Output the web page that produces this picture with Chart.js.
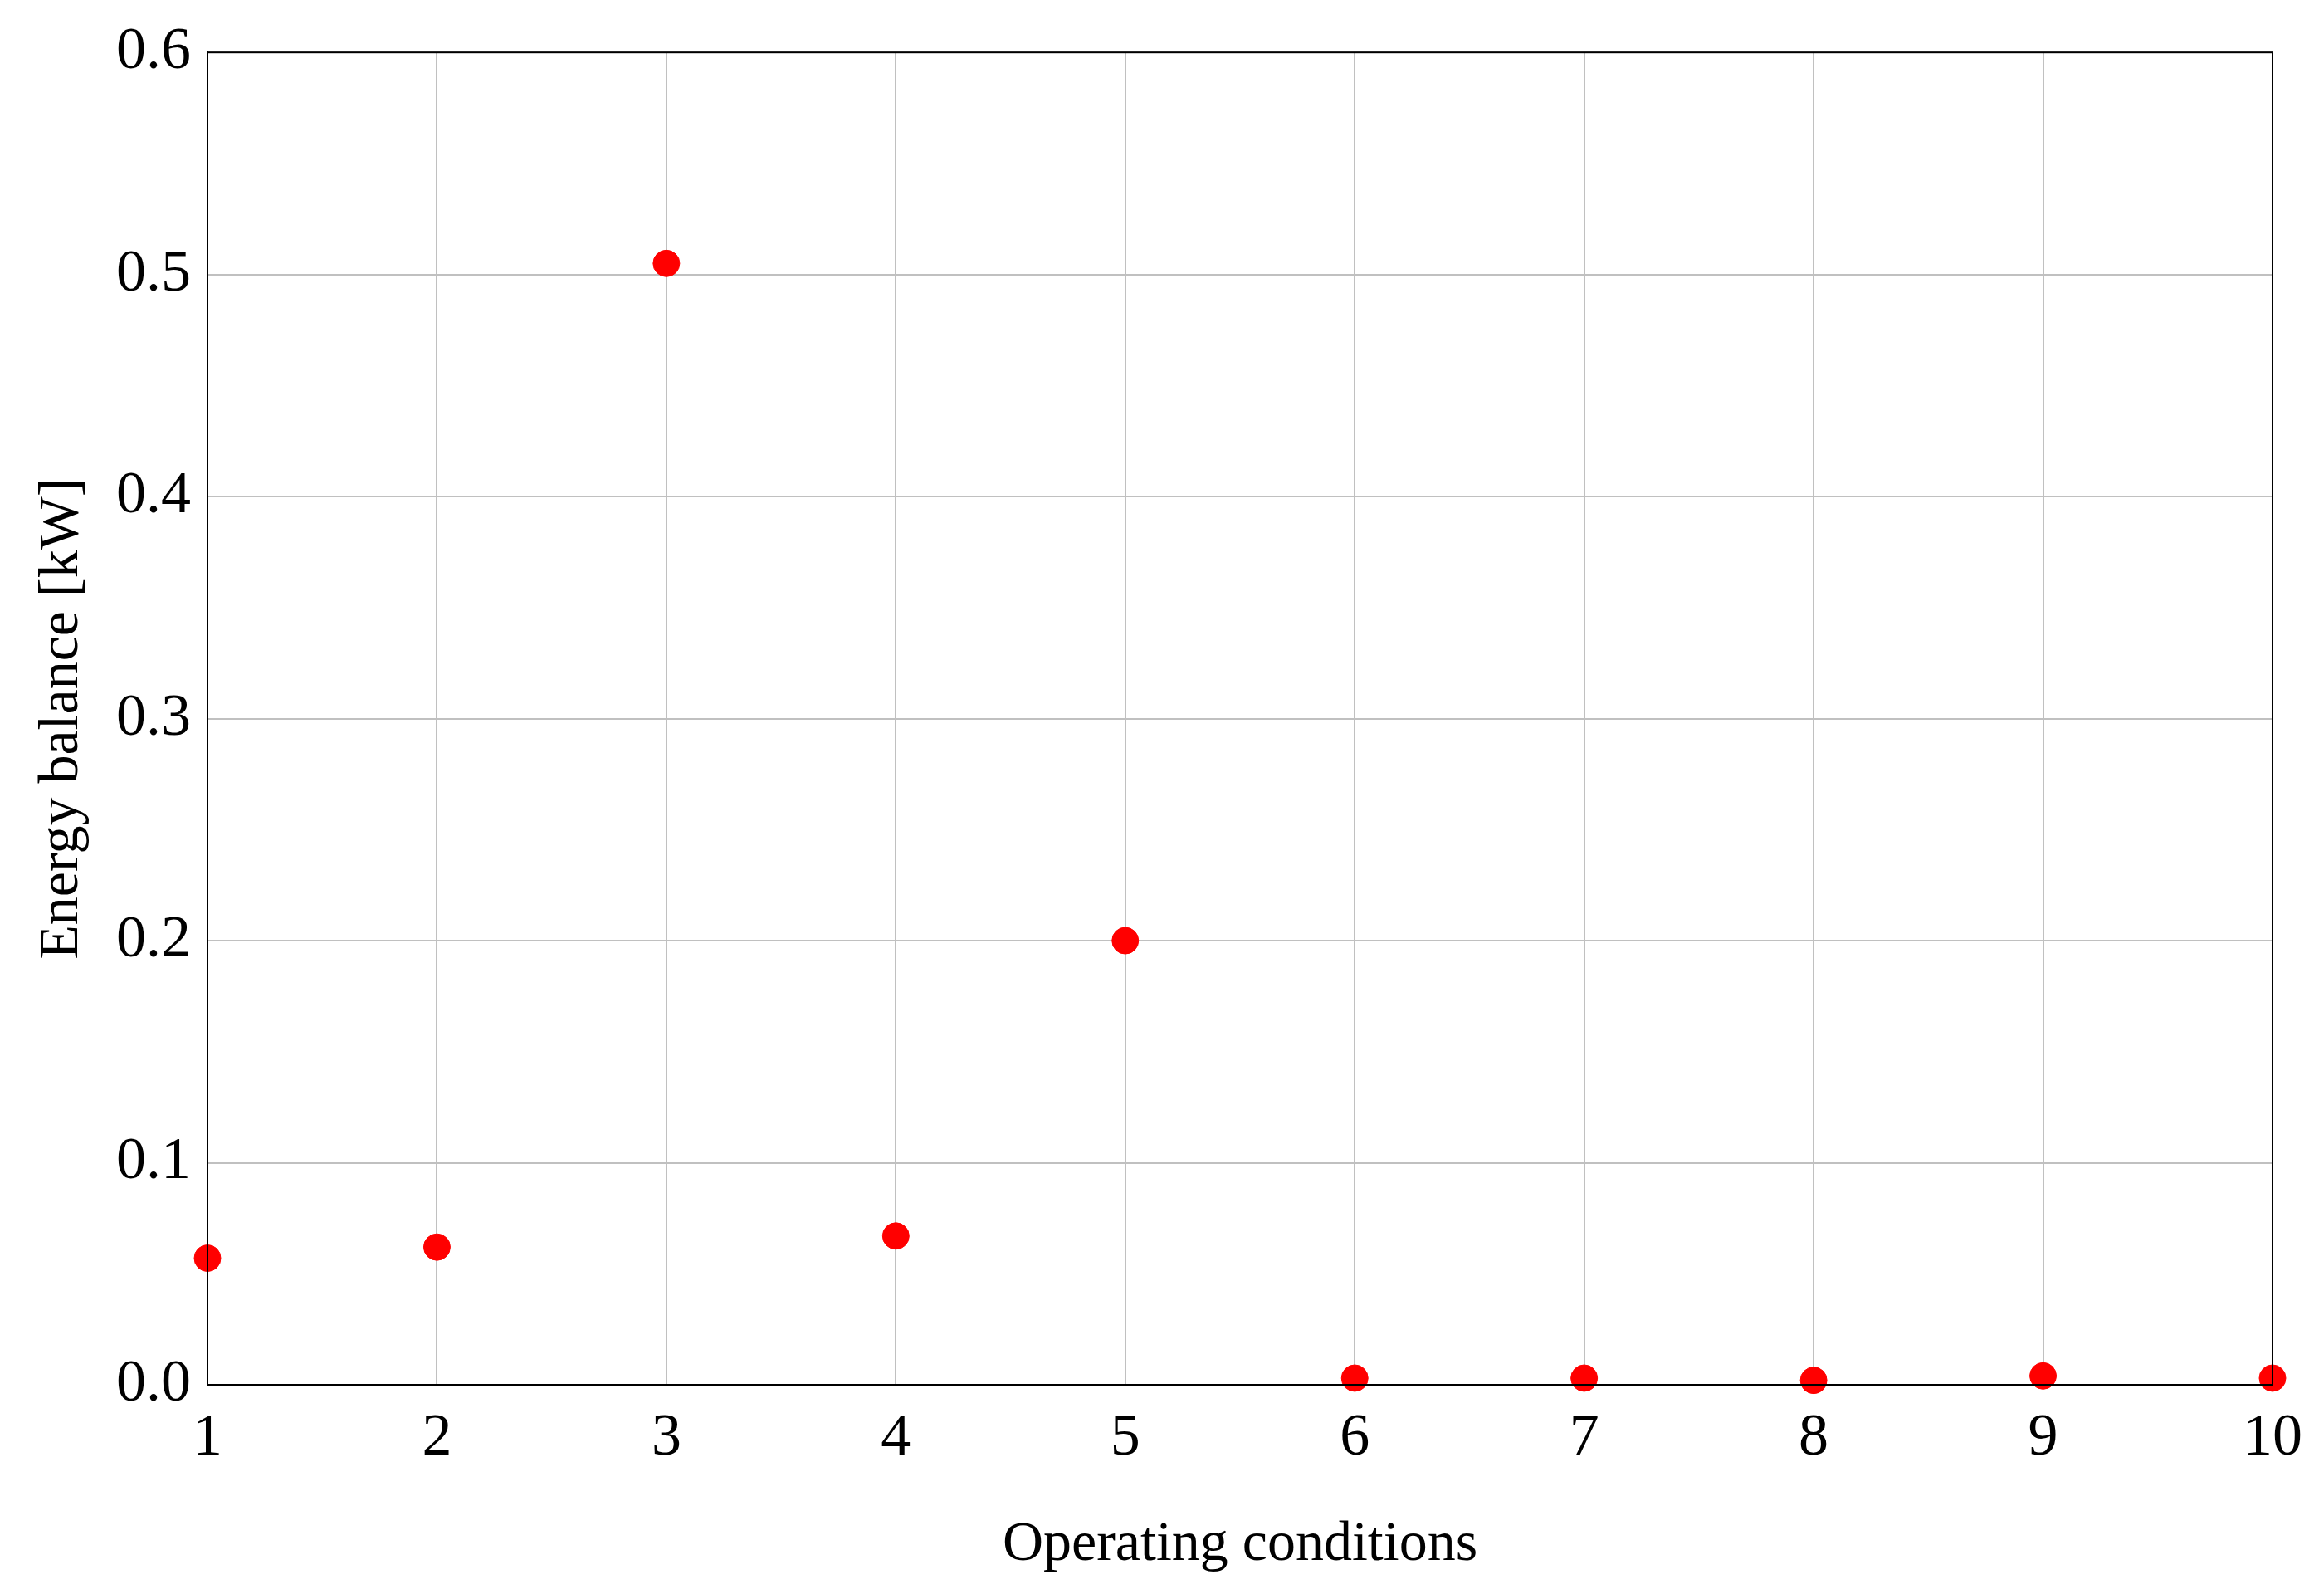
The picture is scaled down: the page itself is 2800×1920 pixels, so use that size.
<!DOCTYPE html>
<html><head><meta charset="utf-8">
<script src="https://cdn.jsdelivr.net/npm/chart.js@4"></script>
<style>html,body{margin:0;padding:0;background:#fff}</style>
</head><body>
<canvas id="c" width="2800" height="1920"></canvas>
<script>
const conditions = [1,2,3,4,5,6,7,8,9,10];
const energyBalance = [0.057,0.062,0.505,0.067,0.200,0.003,0.003,0.002,0.004,0.003];
const yTicks = [0,0.1,0.2,0.3,0.4,0.5,0.6];
const font = "'Liberation Serif', 'DejaVu Serif', serif";
new Chart(document.getElementById('c'), {
  type: 'scatter',
  data: { datasets: [{
    data: conditions.map((x,i)=>({x, y: energyBalance[i]})),
    backgroundColor: '#ff0000', borderColor: '#ff0000',
    pointStyle: 'circle', pointRadius: 16, clip: false
  }]},
  options: {
    responsive: false, animation: false,
    layout: { padding: { top: 59, right: 62, left: 30, bottom: 0 } },
    plugins: { legend: { display: false }, tooltip: { enabled: false } },
    scales: {
      x: { type: 'linear', min: 1, max: 10,
        afterBuildTicks: a => { a.ticks = conditions.map(v=>({value:v})); },
        grid: { color: '#c0c0c0', lineWidth: 2, drawTicks: false },
        border: { color: '#000', width: 2 },
        ticks: { color: '#000', font: { family: font, size: 72 }, padding: 22, maxRotation: 0 },
        title: { display: true, text: 'Operating conditions', color: '#000', font: { family: font, size: 68 }, padding: { top: 22, bottom: 18 } }
      },
      y: { min: 0, max: 0.6,
        afterBuildTicks: a => { a.ticks = yTicks.map(v=>({value:v})); },
        afterFit: a => { a.width = 220; },
        grid: { color: '#c0c0c0', lineWidth: 2, drawTicks: false },
        border: { color: '#000', width: 2 },
        ticks: { color: '#000', font: { family: font, size: 72 }, padding: 20, callback: v => v.toFixed(1) },
        title: { display: true, text: 'Energy balance [kW]', color: '#000', font: { family: font, size: 68 }, padding: { bottom: 8 } }
      }
    }
  },
  plugins: [{ id: 'frame', afterDraw(ch) {
    const {ctx, chartArea: a} = ch; ctx.save(); ctx.strokeStyle = '#000'; ctx.lineWidth = 2;
    ctx.strokeRect(a.left, a.top, a.right - a.left, a.bottom - a.top); ctx.restore();
  }}]
});
</script>
</body></html>
